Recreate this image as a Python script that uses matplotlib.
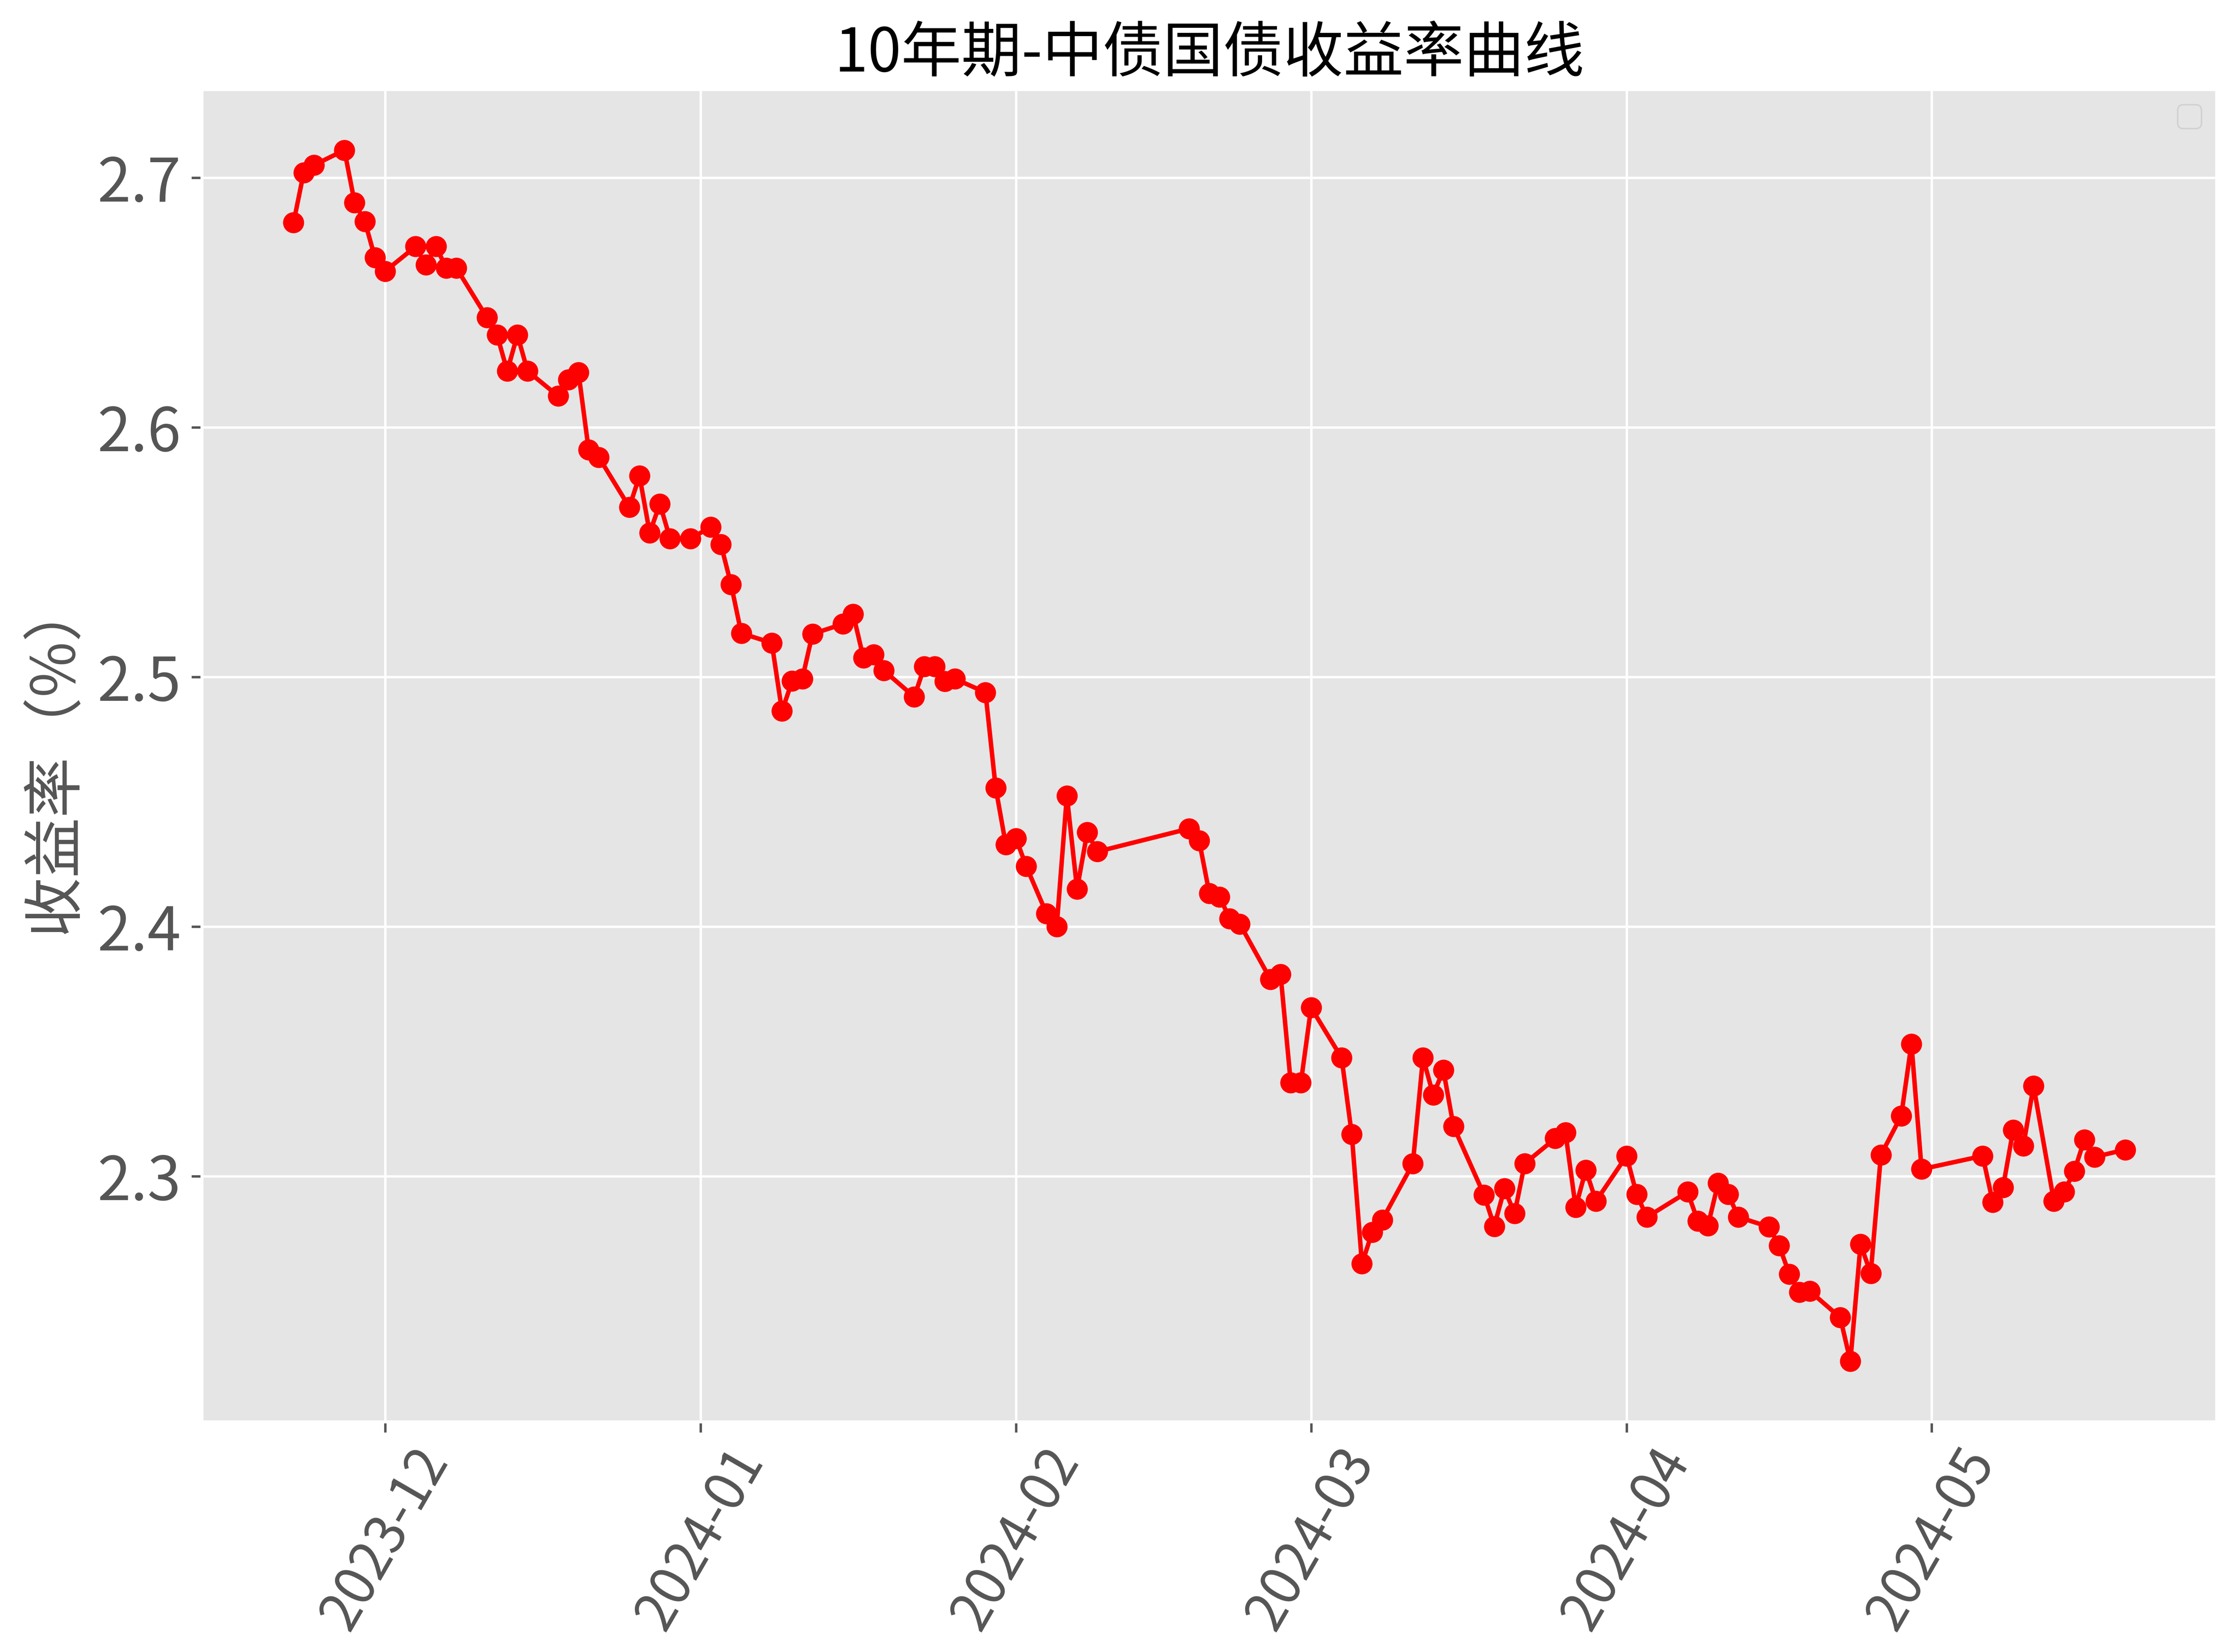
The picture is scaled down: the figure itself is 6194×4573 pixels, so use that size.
import matplotlib
matplotlib.use("Agg")
import matplotlib.pyplot as plt
import matplotlib.dates as mdates
import pandas as pd

plt.style.use("ggplot")
plt.rcParams["font.family"] = ["Noto Sans CJK SC", "DejaVu Sans"]
plt.rcParams["axes.unicode_minus"] = False

title = "10年期-中债国债收益率曲线"
ylabel = "收益率（%）"

dates = [
    "2023-11-22", "2023-11-23", "2023-11-24", "2023-11-27", "2023-11-28", "2023-11-29", "2023-11-30",
    "2023-12-01", "2023-12-04", "2023-12-05", "2023-12-06", "2023-12-07", "2023-12-08",
    "2023-12-11", "2023-12-12", "2023-12-13", "2023-12-14", "2023-12-15",
    "2023-12-18", "2023-12-19", "2023-12-20", "2023-12-21", "2023-12-22",
    "2023-12-25", "2023-12-26", "2023-12-27", "2023-12-28", "2023-12-29", "2023-12-31",
    "2024-01-02", "2024-01-03", "2024-01-04", "2024-01-05",
    "2024-01-08", "2024-01-09", "2024-01-10", "2024-01-11", "2024-01-12",
    "2024-01-15", "2024-01-16", "2024-01-17", "2024-01-18", "2024-01-19",
    "2024-01-22", "2024-01-23", "2024-01-24", "2024-01-25", "2024-01-26",
    "2024-01-29", "2024-01-30", "2024-01-31",
    "2024-02-01", "2024-02-02", "2024-02-04", "2024-02-05", "2024-02-06", "2024-02-07",
    "2024-02-08", "2024-02-09", "2024-02-18", "2024-02-19", "2024-02-20", "2024-02-21",
    "2024-02-22", "2024-02-23", "2024-02-26", "2024-02-27", "2024-02-28", "2024-02-29",
    "2024-03-01", "2024-03-04", "2024-03-05", "2024-03-06", "2024-03-07", "2024-03-08",
    "2024-03-11", "2024-03-12", "2024-03-13", "2024-03-14", "2024-03-15",
    "2024-03-18", "2024-03-19", "2024-03-20", "2024-03-21", "2024-03-22",
    "2024-03-25", "2024-03-26", "2024-03-27", "2024-03-28", "2024-03-29",
    "2024-04-01", "2024-04-02", "2024-04-03", "2024-04-07", "2024-04-08", "2024-04-09",
    "2024-04-10", "2024-04-11", "2024-04-12", "2024-04-15", "2024-04-16", "2024-04-17",
    "2024-04-18", "2024-04-19", "2024-04-22", "2024-04-23", "2024-04-24", "2024-04-25",
    "2024-04-26", "2024-04-28", "2024-04-29", "2024-04-30",
    "2024-05-06", "2024-05-07", "2024-05-08", "2024-05-09", "2024-05-10", "2024-05-11",
    "2024-05-13", "2024-05-14", "2024-05-15", "2024-05-16", "2024-05-17", "2024-05-20",
]

yields = [
    2.682, 2.702, 2.705, 2.711, 2.690, 2.6825, 2.668,
    2.6625, 2.6724, 2.665, 2.6724, 2.6638, 2.6638,
    2.644, 2.637, 2.6225, 2.637, 2.6225,
    2.6125, 2.619, 2.622, 2.591, 2.588,
    2.568, 2.5805, 2.5577, 2.5693, 2.5554, 2.5554,
    2.560, 2.553, 2.537, 2.5175,
    2.5136, 2.4863, 2.4983, 2.4993, 2.5172,
    2.5212, 2.5251, 2.5077, 2.509, 2.5026,
    2.492, 2.5041, 2.5041, 2.4982, 2.4992,
    2.4938, 2.4556, 2.4328,
    2.4353, 2.4242, 2.4052, 2.4000, 2.4524, 2.415,
    2.4377, 2.430, 2.4392, 2.4344, 2.4133, 2.4119,
    2.4032, 2.401, 2.3789, 2.3809, 2.3375, 2.3375,
    2.3675, 2.3474, 2.3167, 2.2649, 2.2775, 2.2825,
    2.305, 2.3475, 2.3325, 2.3425, 2.3199,
    2.2925, 2.2799, 2.295, 2.285, 2.3051,
    2.3151, 2.3175, 2.2875, 2.3025, 2.290,
    2.3081, 2.2927, 2.2836, 2.2937, 2.2821, 2.2801,
    2.2972, 2.2927, 2.2836, 2.2797, 2.2722, 2.2608,
    2.2535, 2.254, 2.2434, 2.2259, 2.2727, 2.2611,
    2.3085, 2.3242, 2.353, 2.3028,
    2.3081, 2.2895, 2.2955, 2.3185, 2.3121, 2.3362,
    2.290, 2.2937, 2.302, 2.3146, 2.3077, 2.3106,
]

x = pd.to_datetime(dates)

W, H, DPI = 6194, 4573, 600
fig = plt.figure(figsize=(W / DPI, H / DPI), dpi=DPI)
ax = fig.add_axes([559 / W, 1 - 3935.5 / H, (6135 - 559) / W, (3935.5 - 248) / H])

ax.plot(x, yields, color="red", marker="o", linestyle="-")

ax.set_title(title, fontsize=20)
ax.set_ylabel(ylabel, fontsize=20)
ax.xaxis.set_major_locator(mdates.MonthLocator())
ax.xaxis.set_major_formatter(mdates.DateFormatter("%Y-%m"))
ax.tick_params(axis="y", labelsize=20)
ax.tick_params(axis="x", labelsize=18, pad=2)
plt.setp(ax.get_xticklabels(), rotation=60)
ax.legend()

fig.savefig("out.png", dpi=DPI)
